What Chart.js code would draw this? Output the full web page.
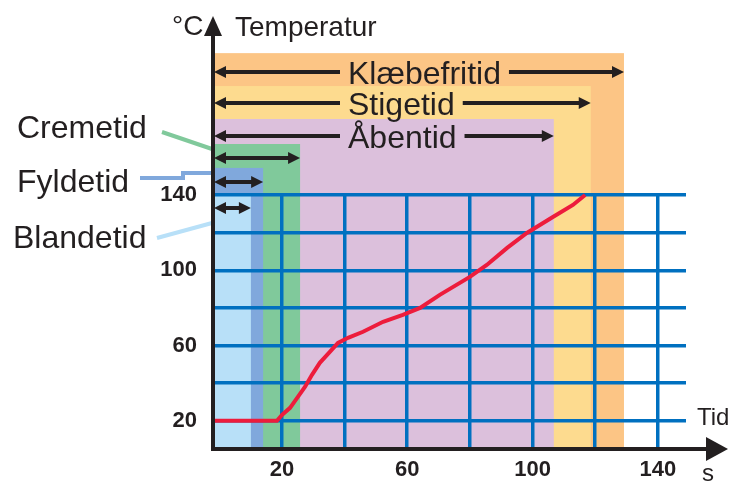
<!DOCTYPE html>
<html>
<head>
<meta charset="utf-8">
<script src="https://cdn.jsdelivr.net/npm/chart.js@4.4.1/dist/chart.umd.min.js"></script>
<style>
  html, body { margin: 0; padding: 0; background: #fff; }
  #wrap { width: 730px; height: 482px; }
</style>
</head>
<body>
<div id="wrap"><canvas id="chart" width="730" height="482"></canvas></div>
<script>
// temperature curve (time in s, temperature in °C)
const timeSec = [-2, 18.4, 20.1, 22.6, 25.1, 27.4, 29.6, 32.1, 35.3, 37.9, 41.1, 45.9, 52.3, 58.6, 64.1, 70.4, 80.0, 85.4, 91.9, 98.2, 106.5, 112.9, 116.8];
const tempC = [20, 20, 23.2, 26.9, 32.7, 38.1, 44.4, 50.8, 56.6, 61.4, 64.1, 67.3, 72.6, 76.3, 80.0, 86.9, 96.5, 102.8, 111.9, 119.8, 128.3, 134.7, 140];

// phases: end time (s), top of the band and level of the arrow (°C)
const phaseNames = ['Klæbefritid', 'Stigetid', 'Åbentid', 'Cremetid', 'Fyldetid', 'Blandetid'];
const phaseEnd = [129.2, 118.6, 106.8, 25.8, 14.0, 10.1];
const phaseTop = [215.4, 197.9, 180.4, 167.1, 154.4, 140];
const phaseArrow = [205.3, 188.9, 171.4, 159.7, 146.9, 133.1];

const xTicks = [20, 40, 60, 80, 100, 120, 140];
const xLabels = [20, 60, 100, 140];
const yTicks = [20, 40, 60, 80, 100, 120, 140];
const yLabels = [20, 60, 100, 140];

const phaseColors = ['#fcc585', '#fddb8f', '#dcc0dc', '#80c99b', '#80a8dc', '#b8e0f8'];
const INK = '#231f20';
const GRID = '#0070c0';
const FONT = '"Liberation Sans", Arial, sans-serif';

function arrowHead(ctx, tipX, yy, dir, len, half) {
  ctx.beginPath();
  ctx.moveTo(tipX, yy);
  ctx.lineTo(tipX - dir * len, yy - half);
  ctx.lineTo(tipX - dir * len, yy + half);
  ctx.closePath();
  ctx.fill();
}

function hline(ctx, a, b, yy) {
  ctx.beginPath();
  ctx.moveTo(a, yy);
  ctx.lineTo(b, yy);
  ctx.stroke();
}

const bandsPlugin = {
  id: 'bands',
  beforeDraw(chart) {
    const { ctx, scales: { x, y } } = chart;
    const x0 = x.getPixelForValue(x.min);
    const yb = y.getPixelForValue(y.min);
    ctx.save();
    phaseEnd.forEach((end, i) => {
      const x1 = x.getPixelForValue(end);
      const yt = y.getPixelForValue(phaseTop[i]);
      ctx.fillStyle = phaseColors[i];
      ctx.fillRect(x0, yt, x1 - x0, yb - yt);
    });
    ctx.restore();
  }
};

const overlayPlugin = {
  id: 'overlay',
  afterDraw(chart) {
    const { ctx, scales: { x, y } } = chart;
    const x0 = x.getPixelForValue(x.min);
    const yb = y.getPixelForValue(y.min);
    ctx.save();
    ctx.fillStyle = INK;
    ctx.strokeStyle = INK;
    ctx.lineWidth = 4;

    // phase arrows
    ctx.font = '32px ' + FONT;
    ctx.textBaseline = 'alphabetic';
    phaseEnd.forEach((end, i) => {
      const x1 = x.getPixelForValue(end);
      const yy = Math.round(y.getPixelForValue(phaseArrow[i]));
      if (i < 3) {
        const tl = 348;
        const tw = ctx.measureText(phaseNames[i]).width;
        hline(ctx, x0 + 6, tl - 8, yy);
        hline(ctx, tl + tw + 8, x1 - 6, yy);
        ctx.fillText(phaseNames[i], tl, yy + 12);
        arrowHead(ctx, x0 + 1, yy, -1, 12, 6);
        arrowHead(ctx, x1, yy, 1, 12, 6);
      } else {
        hline(ctx, x0 + 6, x1 - 6, yy);
        arrowHead(ctx, x0 + 1, yy, -1, 12, 6);
        arrowHead(ctx, x1, yy, 1, 12, 6);
      }
    });

    // left labels with leader lines
    ctx.fillText('Cremetid', 17, 138);
    ctx.fillText('Fyldetid', 17, 192);
    ctx.fillText('Blandetid', 13, 248);

    ctx.lineWidth = 4;
    ctx.strokeStyle = phaseColors[3];
    ctx.beginPath();
    ctx.moveTo(162, 132);
    ctx.lineTo(x0 - 1, y.getPixelForValue(phaseTop[3]) + 5);
    ctx.stroke();

    ctx.strokeStyle = phaseColors[4];
    const yf = y.getPixelForValue(phaseTop[4]) + 5;
    ctx.beginPath();
    ctx.moveTo(140, yf + 5);
    ctx.lineTo(183, yf + 5);
    ctx.lineTo(183, yf);
    ctx.lineTo(x0 - 1, yf);
    ctx.stroke();

    ctx.strokeStyle = phaseColors[5];
    ctx.beginPath();
    ctx.moveTo(157, 238);
    ctx.lineTo(x0 - 1, y.getPixelForValue(phaseArrow[5]) + 15);
    ctx.stroke();

    // axes with arrow heads
    ctx.strokeStyle = INK;
    ctx.fillStyle = INK;
    ctx.lineWidth = 4;
    ctx.beginPath();
    ctx.moveTo(x0, 30);
    ctx.lineTo(x0, yb + 2);
    ctx.stroke();
    ctx.beginPath();
    ctx.moveTo(x0, 16);
    ctx.lineTo(x0 - 9, 36);
    ctx.lineTo(x0 + 9, 36);
    ctx.closePath();
    ctx.fill();

    hline(ctx, x0 - 2, 710, yb);
    arrowHead(ctx, 728, yb, 1, 22, 12);

    // axis captions
    ctx.font = '28px ' + FONT;
    ctx.fillText('°C', 172, 35);
    ctx.fillText('Temperatur', 235, 36);
    ctx.font = '24px ' + FONT;
    ctx.fillText('Tid', 697, 425);
    ctx.fillText('s', 702, 481);
    ctx.restore();
  }
};

new Chart(document.getElementById('chart'), {
  type: 'line',
  data: {
    datasets: [{
      data: timeSec.map((t, i) => ({ x: t, y: tempC[i] })),
      borderColor: '#ed1c3c',
      borderWidth: 4,
      pointRadius: 0,
      tension: 0,
      fill: false,
      clip: false,
    }],
  },
  options: {
    responsive: false,
    animation: false,
    layout: { padding: { top: 195, right: 44, bottom: 0, left: 0 } },
    plugins: { legend: { display: false }, tooltip: { enabled: false } },
    scales: {
      x: {
        type: 'linear',
        min: -2,
        max: 149,
        afterBuildTicks: s => { s.ticks = xTicks.map(v => ({ value: v })); },
        afterFit: s => { s.height = 33; },
        grid: { color: GRID, lineWidth: 3.5, drawTicks: false },
        border: { display: false },
        ticks: {
          autoSkip: false,
          maxRotation: 0,
          padding: 8,
          color: INK,
          font: { family: FONT, size: 22, weight: 'bold' },
          callback: v => xLabels.includes(v) ? String(v) : '',
        },
      },
      y: {
        type: 'linear',
        min: 5,
        max: 140,
        afterBuildTicks: s => { s.ticks = yTicks.map(v => ({ value: v })); },
        afterFit: s => { s.width = 213; },
        grid: { color: GRID, lineWidth: 3.5, drawTicks: false },
        border: { display: false },
        ticks: {
          autoSkip: false,
          padding: 16,
          color: INK,
          font: { family: FONT, size: 22, weight: 'bold' },
          callback: v => yLabels.includes(v) ? String(v) : '',
        },
      },
    },
  },
  plugins: [bandsPlugin, overlayPlugin],
});
</script>
</body>
</html>
